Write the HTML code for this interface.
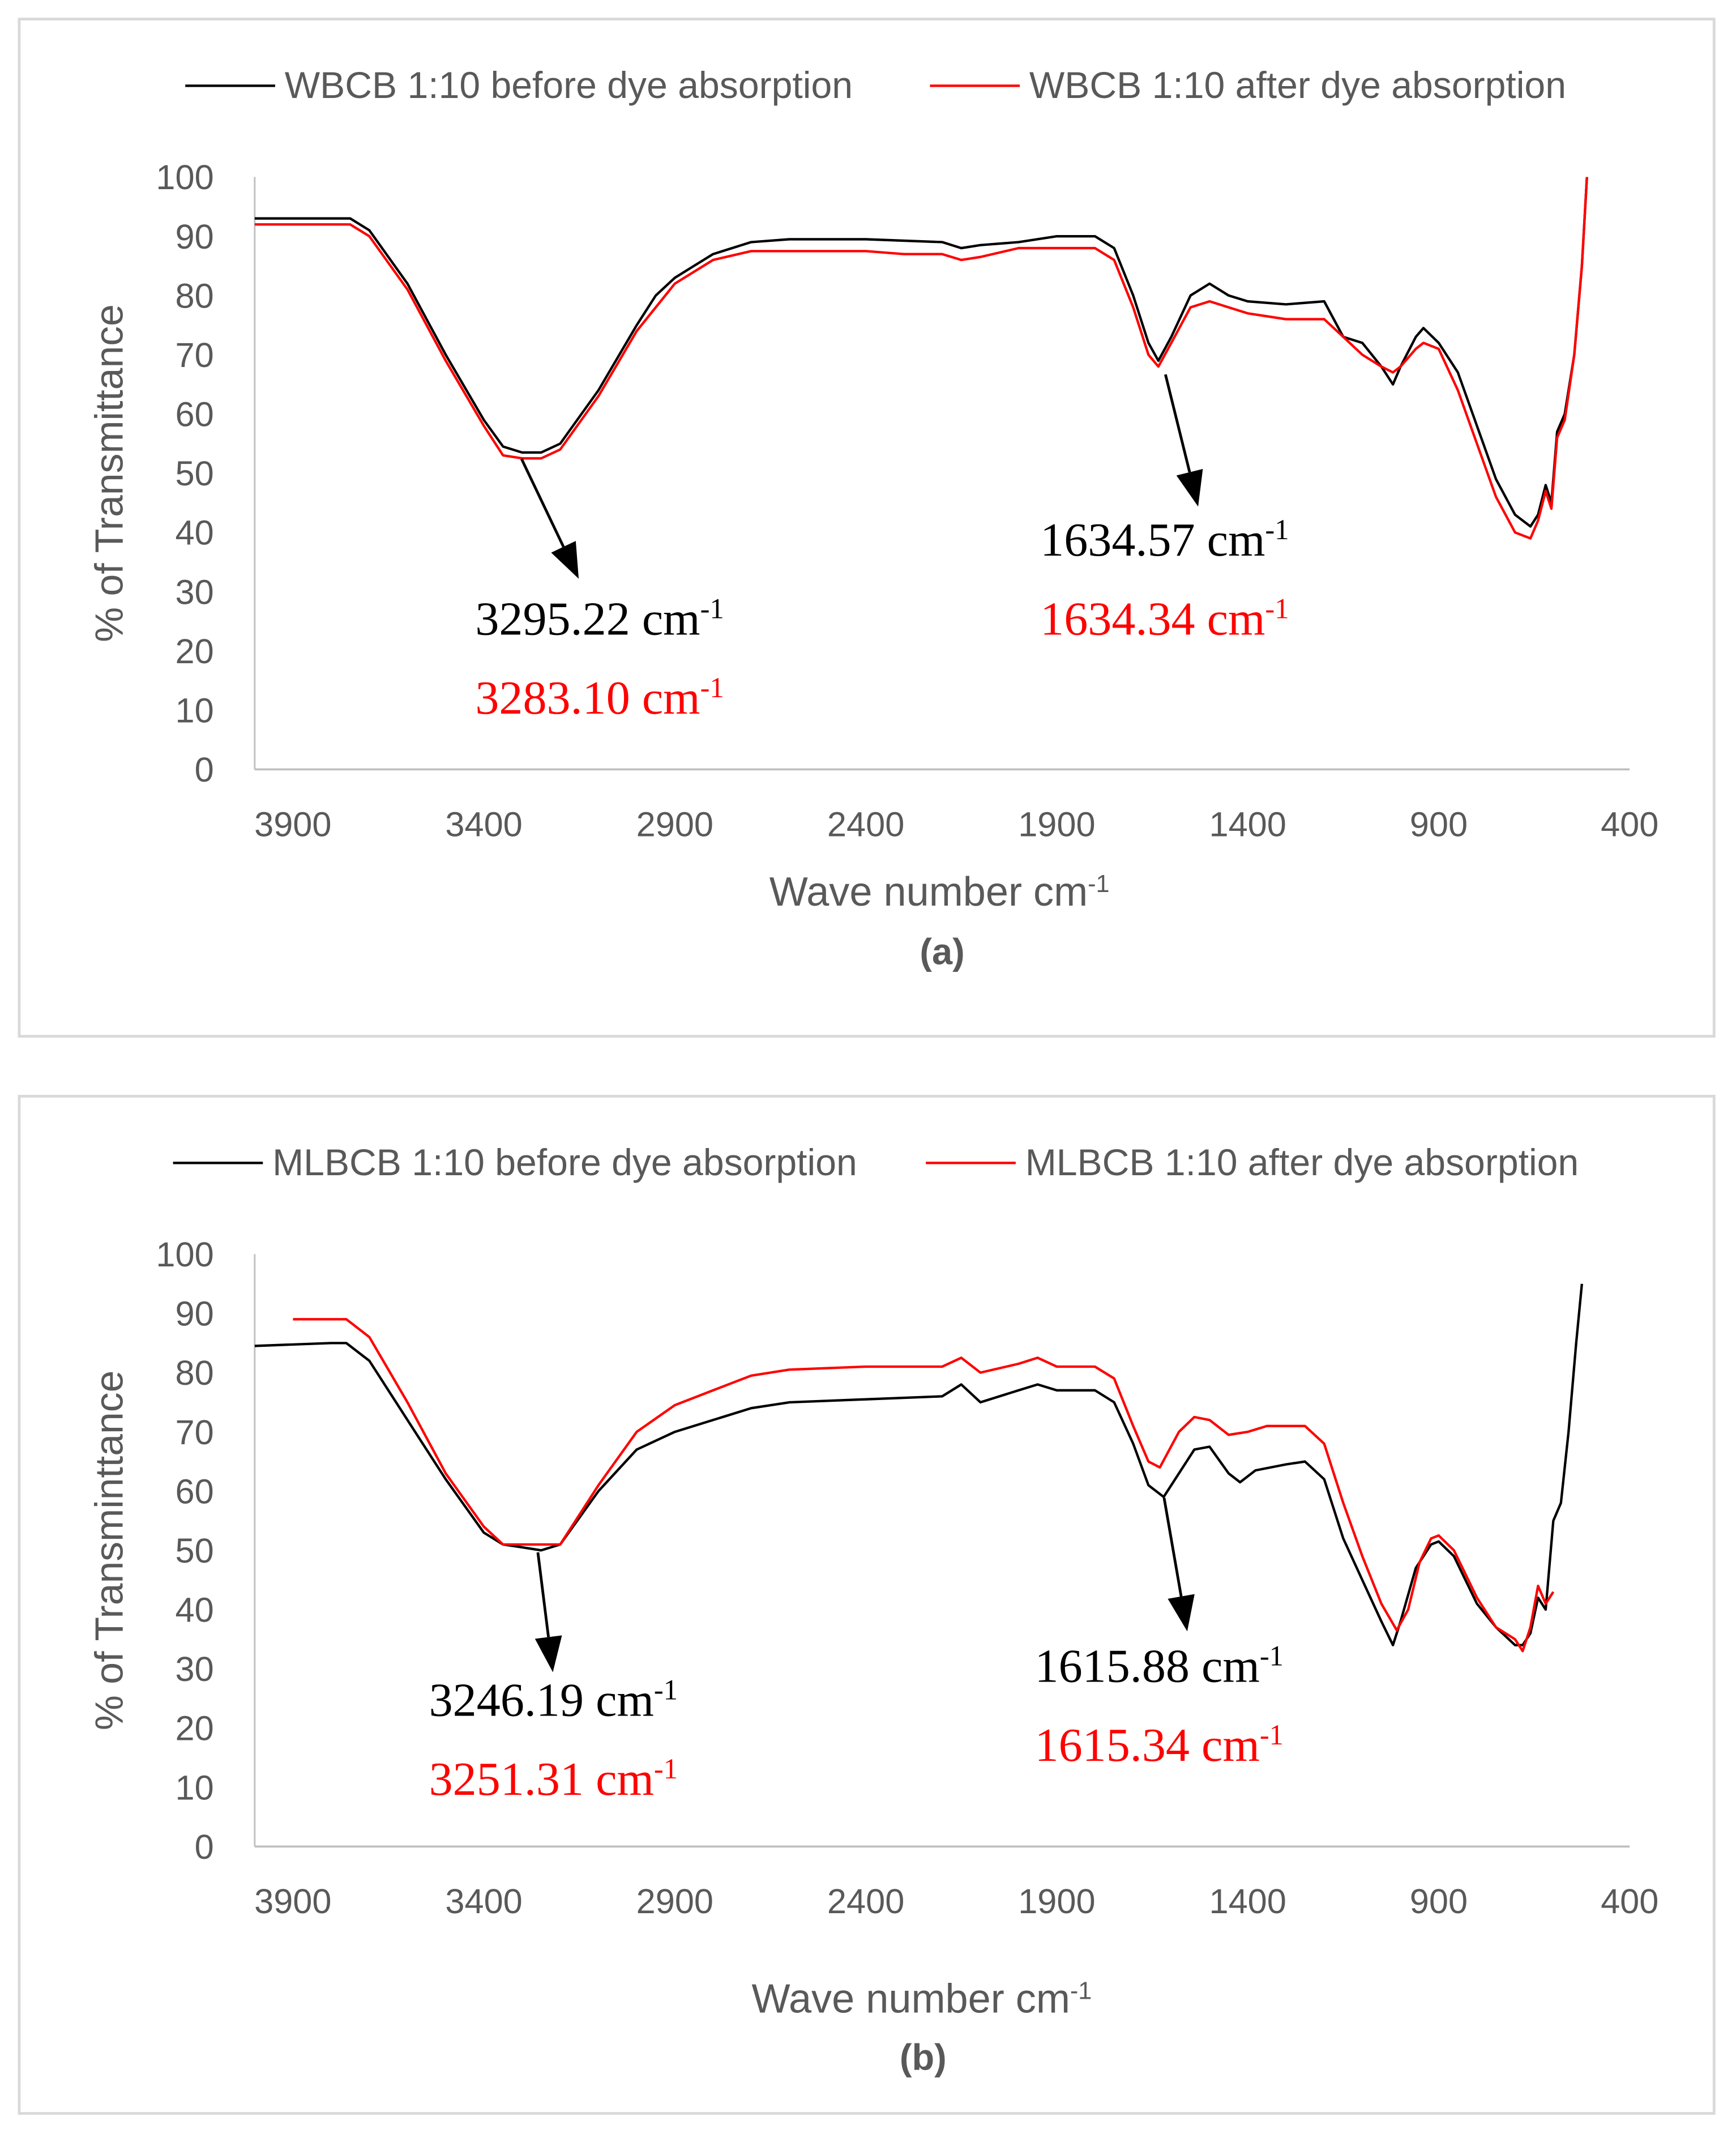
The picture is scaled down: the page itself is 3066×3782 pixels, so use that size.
<!DOCTYPE html>
<html><head><meta charset="utf-8"><style>
html,body{margin:0;padding:0;background:#fff;}
svg{display:block;}
.ax{font-family:"Liberation Sans",sans-serif;fill:#595959;}
.an{font-family:"Liberation Serif",serif;}
</style></head><body>
<svg id="fig" width="3066" height="3782" viewBox="0 0 1275 1573" xmlns="http://www.w3.org/2000/svg">
<rect x="0" y="0" width="1275" height="1573" fill="#fff"/>
</svg>
<script>
// Panel (a) data
const aBlackX=[4000,3750,3700,3600,3500,3400,3350,3300,3250,3200,3100,3000,2950,2900,2850,2800,2700,2600,2400,2200,2150,2100,2000,1900,1800,1750,1700,1660,1634,1600,1550,1500,1450,1400,1300,1200,1150,1100,1050,1020,1000,960,940,900,850,800,750,700,660,640,620,605,590,570,545,525,512];
const aBlackY=[93,93,91,82,70,59,54.5,53.5,53.5,55,64,75,80,83,85,87,89,89.5,89.5,89,88,88.5,89,90,90,88,80,72,69,73,80,82,80,79,78.5,79,73,72,68,65,68,73,74.5,72,67,58,49,43,41,43,48,45,57,60,70,85,100];
const aRedX=[4000,3750,3700,3600,3500,3400,3350,3300,3250,3200,3100,3000,2900,2800,2700,2400,2300,2200,2150,2100,2000,1900,1800,1750,1700,1660,1634,1600,1550,1500,1400,1300,1200,1150,1100,1050,1020,1000,960,940,900,850,800,750,700,660,640,620,605,590,570,545,525,512];
const aRedY=[92,92,90,81,69,58,53,52.5,52.5,54,63,74,82,86,87.5,87.5,87,87,86,86.5,88,88,88,86,78,70,68,72,78,79,77,76,76,73,70,68,67,68,71,72,71,64,55,46,40,39,42,47,44,56,59,70,85,100];
// Panel (b) data
const bBlackX=[4000,3800,3760,3700,3600,3500,3400,3350,3300,3250,3200,3100,3000,2900,2800,2700,2600,2400,2200,2150,2100,2000,1950,1900,1800,1750,1700,1660,1620,1580,1540,1500,1450,1420,1380,1300,1250,1200,1150,1100,1050,1020,1000,960,920,900,860,800,750,700,680,660,640,620,600,580,560,540,525];
const bBlackY=[84.5,85,85,82,72,62,53,51,50.5,50,51,60,67,70,72,74,75,75.5,76,78,75,77,78,77,77,75,68,61,59,63,67,67.5,63,61.5,63.5,64.5,65,62,52,45,38,34,38,47,51,51.5,49,41,37,34,34,36,42,40,55,58,70,85,95];
const bRedX=[3900,3760,3700,3600,3500,3400,3350,3300,3200,3100,3000,2900,2800,2700,2600,2400,2200,2150,2100,2000,1950,1900,1800,1750,1700,1660,1630,1580,1540,1500,1450,1400,1350,1250,1200,1150,1100,1050,1010,980,950,920,900,860,800,750,700,680,660,640,620,600];
const bRedY=[89,89,86,75,63,54,51,51,51,61,70,74.5,77,79.5,80.5,81,81,82.5,80,81.5,82.5,81,81,79,71,65,64,70,72.5,72,69.5,70,71,71,68,58,49,41,36.5,40,48,52,52.5,50,42,37,35,33,37,44,41,43];
const xTicks=[3900,3400,2900,2400,1900,1400,900,400];
const yTicks=[0,10,20,30,40,50,60,70,80,90,100];

const NS="http://www.w3.org/2000/svg";
const svg=document.getElementById('fig');
function mk(tag,attrs,parent){const e=document.createElementNS(NS,tag);for(const k in attrs)e.setAttribute(k,attrs[k]);(parent||svg).appendChild(e);return e;}
function xs(v){return 187+(4000-v)*(1010/3600);}

function panel(id,top,leg1,leg2,bx,by,rx,ry,ann,label){
  const g=mk('g',{});
  
  
  const fr=mk('rect',{x:14,y:top,width:1245,height:747,fill:'none',stroke:'#d9d9d9','stroke-width':2},g);
  
  
  const y0=top+551, y100=top+116;
  const ys=v=>y0-(v/100)*(y0-y100);
  const l1=mk('g',{},g);
  
  
  mk('line',{x1:leg1.x,x2:leg1.x+66,y1:top+49,y2:top+49,stroke:'#000','stroke-width':1.8},l1);
  const t1=mk('text',{x:leg1.x+73,y:top+58,'font-size':27.5,class:'ax'},l1);t1.textContent=leg1.t;
  const l2=mk('g',{},g);
  
  
  mk('line',{x1:leg2.x,x2:leg2.x+66,y1:top+49,y2:top+49,stroke:'#ff0000','stroke-width':1.8},l2);
  const t2=mk('text',{x:leg2.x+73,y:top+58,'font-size':27.5,class:'ax'},l2);t2.textContent=leg2.t;
  const ya=mk('line',{x1:187,x2:187,y1:y100,y2:y0,stroke:'#bfbfbf','stroke-width':1.2},g);
  
  
  const xa=mk('line',{x1:187,x2:1197,y1:y0,y2:y0,stroke:'#bfbfbf','stroke-width':1.5},g);
  
  
  yTicks.forEach(v=>{const t=mk('text',{x:157,y:ys(v)+9,'font-size':25.5,'text-anchor':'end',class:'ax'},g);
    
    
    t.textContent=v;});
  xTicks.forEach(v=>{const t=mk('text',{x:xs(v),y:y0+49,'font-size':25.5,'text-anchor':'middle',class:'ax'},g);
    
    
    t.textContent=v;});
  const yt=mk('text',{x:0,y:0,'font-size':29,'text-anchor':'middle',class:'ax',transform:`translate(90,${(y0+y100)/2}) rotate(-90)`},g);
  
  
  yt.textContent=id==='a'?'% of Transmittance':'% of Transminttance';
  const xt=mk('text',{x:label.tx,y:label.ty,'font-size':30,'text-anchor':'middle',class:'ax'},g);
  
  
  xt.innerHTML='Wave number cm<tspan dy="-10" font-size="18">-1</tspan>';
  const pl=mk('text',{x:label.lx,y:label.ly,'font-size':27,'font-weight':'bold','text-anchor':'middle',class:'ax'},g);
  
  
  pl.textContent='('+id+')';
  const pts=(X,Y)=>X.map((x,i)=>xs(x).toFixed(1)+','+ys(Y[i]).toFixed(1)).join(' ');
  const sb=mk('polyline',{points:pts(bx,by),fill:'none',stroke:'#000','stroke-width':1.8,'stroke-linejoin':'round'},g);
  
  
  const sr=mk('polyline',{points:pts(rx,ry),fill:'none',stroke:'#ff0000','stroke-width':1.8,'stroke-linejoin':'round'},g);
  
  
  ann.forEach(a=>{
    const ag=mk('g',{},g);
    
    
    const dx=a.x2-a.x1, dy=a.y2-a.y1, L=Math.hypot(dx,dy), ux=dx/L, uy=dy/L;
    const bxp=a.x2-ux*26, byp=a.y2-uy*26;
    mk('line',{x1:a.x1,y1:a.y1,x2:bxp,y2:byp,stroke:'#000','stroke-width':2},ag);
    mk('polygon',{points:`${a.x2},${a.y2} ${bxp-uy*10},${byp+ux*10} ${bxp+uy*10},${byp-ux*10}`,fill:'#000'},ag);
    const k=mk('text',{x:a.tx,y:a.ty,'font-size':35,class:'an',fill:'#000'},ag);
    k.innerHTML=a.t1+'<tspan dy="-12" font-size="21">-1</tspan>';
    const r=mk('text',{x:a.tx,y:a.ty+58,'font-size':35,class:'an',fill:'#ff0000'},ag);
    r.innerHTML=a.t2+'<tspan dy="-12" font-size="21">-1</tspan>';
  });
}
panel('a',14,{x:136,t:'WBCB 1:10 before dye absorption'},{x:683,t:'WBCB 1:10 after dye absorption'},
  aBlackX,aBlackY,aRedX,aRedY,
  [{x1:383,y1:337,x2:425,y2:425,tx:349,ty:466,t1:'3295.22 cm',t2:'3283.10 cm'},
   {x1:856,y1:275,x2:880,y2:372,tx:764,ty:408,t1:'1634.57 cm',t2:'1634.34 cm'}],
  {tx:690,ty:665,lx:692,ly:708});
panel('b',805,{x:127,t:'MLBCB 1:10 before dye absorption'},{x:680,t:'MLBCB 1:10 after dye absorption'},
  bBlackX,bBlackY,bRedX,bRedY,
  [{x1:395,y1:1140,x2:406,y2:1228,tx:315,ty:1260,t1:'3246.19 cm',t2:'3251.31 cm'},
   {x1:855,y1:1100,x2:872,y2:1198,tx:760,ty:1235,t1:'1615.88 cm',t2:'1615.34 cm'}],
  {tx:677,ty:1478,lx:678,ly:1520});
</script>
</body></html>
